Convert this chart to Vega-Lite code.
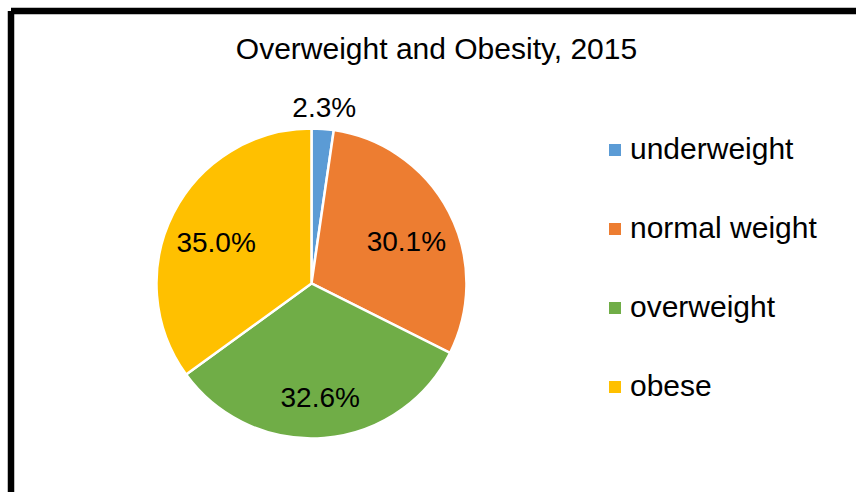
{
  "$schema": "https://vega.github.io/schema/vega-lite/v6.json",
  "width": 845,
  "height": 481,
  "autosize": {"type": "none"},
  "padding": {"left": 11, "top": 11, "right": 0, "bottom": 0},
  "background": "white",
  "config": {
    "view": {"stroke": "black", "strokeWidth": 6.5, "strokeDash": [845, 1326, 481, 0]},
    "legend": {
      "orient": "none",
      "legendX": 589,
      "legendY": 124,
      "symbolType": "square",
      "symbolSize": 144,
      "symbolStrokeWidth": 0,
      "labelFontSize": 30,
      "labelFont": "Liberation Sans",
      "labelColor": "black",
      "labelLimit": 400,
      "rowPadding": 49,
      "labelOffset": 0,
      "padding": 0
    }
  },
  "title": {
    "text": "Overweight and Obesity, 2015",
    "font": "Liberation Sans",
    "fontSize": 30,
    "fontWeight": "normal",
    "color": "black",
    "anchor": "middle",
    "dx": 3,
    "offset": 0,
    "baseline": "alphabetic",
    "dy": 78
  },
  "data": {
    "values": [
      {"category": "underweight", "value": 0.023, "rank": 1},
      {"category": "normal weight", "value": 0.301, "rank": 2},
      {"category": "overweight", "value": 0.326, "rank": 3},
      {"category": "obese", "value": 0.35, "rank": 4}
    ]
  },
  "encoding": {
    "theta": {"field": "value", "type": "quantitative", "stack": true},
    "order": {"field": "rank", "type": "quantitative"},
    "x": {"datum": 0.3556, "type": "quantitative", "scale": {"domain": [0, 1]}, "axis": null},
    "y": {"datum": 0.4335, "type": "quantitative", "scale": {"domain": [0, 1]}, "axis": null}
  },
  "layer": [
    {
      "mark": {"type": "arc", "outerRadius": 155, "stroke": "white", "strokeWidth": 2.5},
      "encoding": {
        "color": {
          "field": "category",
          "type": "nominal",
          "sort": ["underweight", "normal weight", "overweight", "obese"],
          "scale": {
            "domain": ["underweight", "normal weight", "overweight", "obese"],
            "range": ["#5B9BD5", "#ED7D31", "#70AD47", "#FFC000"]
          },
          "legend": {"title": null}
        }
      }
    },
    {
      "mark": {
        "type": "text",
        "radius": {"expr": "datum.value < 0.05 ? 177 : 107"},
        "dy": {"expr": "datum.value < 0.05 ? 2 : 9"},
        "font": "Liberation Sans",
        "fontSize": 28,
        "color": "black"
      },
      "encoding": {
        "text": {"field": "value", "type": "quantitative", "format": ".1%"}
      }
    }
  ]
}
